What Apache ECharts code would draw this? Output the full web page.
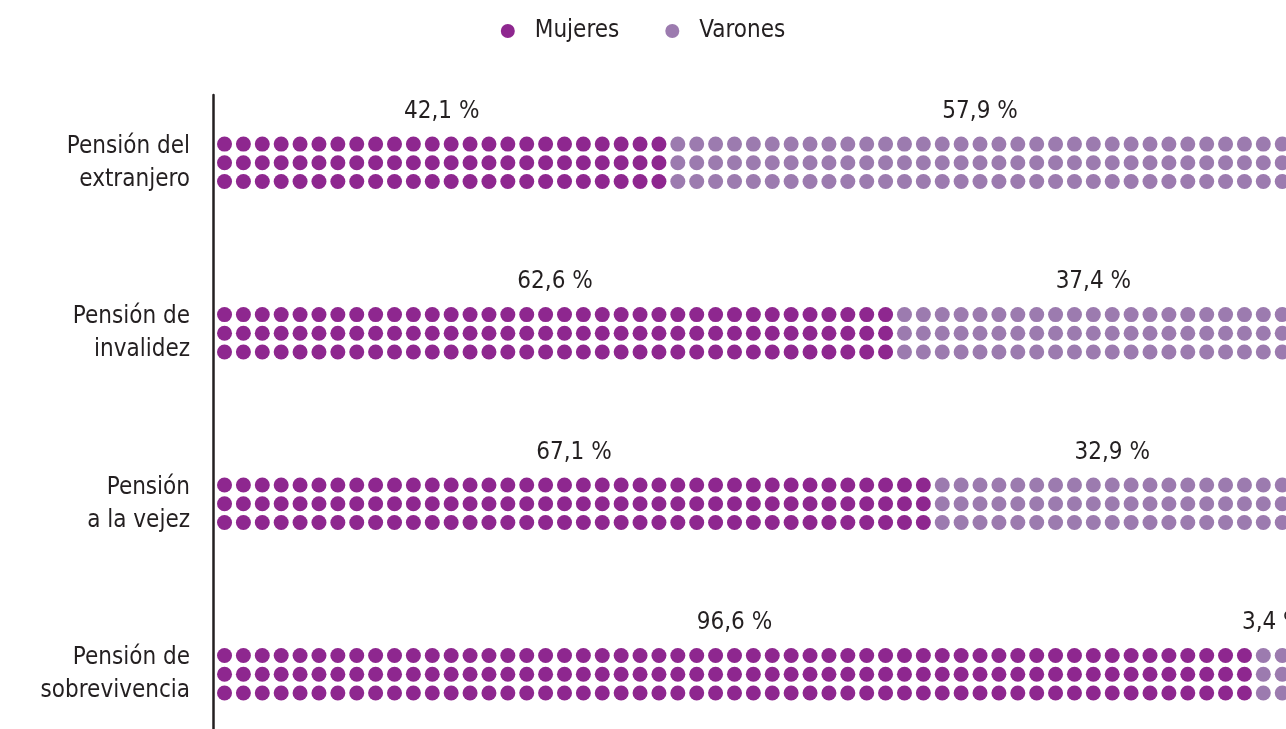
<!DOCTYPE html>
<html>
<head>
<meta charset="utf-8">
<script src="https://cdn.jsdelivr.net/npm/echarts@6/dist/echarts.min.js"></script>
<style>
html,body{margin:0;padding:0;background:#fff;}
#chart{width:1286px;height:729px;}
</style>
</head>
<body>
<div id="chart"></div>
<script>
// ---- data ----
const categories = ["Pensión del\nextranjero", "Pensión de\ninvalidez", "Pensión\na la vejez", "Pensión de\nsobrevivencia"];
const mujeres = [42.1, 62.6, 67.1, 96.6];
const varones = [57.9, 37.4, 32.9, 3.4];
const seriesNames = ["Mujeres", "Varones"];
const COLUMNS = 57;      // dots per row (100 %)
const ROWS = 3;          // rows per category

// ---- layout constants ----
const GAP = 9.1;         // distance between categories, in row units
const FONT = '"Liberation Sans Narrow", "DejaVu Sans Condensed", "Arial Narrow", sans-serif';
const TXT = '#231F20';
const C_M = '#8E278F';
const C_V = '#9C7BAF';
const X_MIN = -0.61, X_MAX = 56.2;
const Y_MIN = -2.62, Y_MAX = 31.22;

function fmt(v){ return v.toFixed(1).replace('.', ',') + ' %'; }

const mDots = [], vDots = [], pctLabels = [], catLabels = [];
categories.forEach((c, i) => {
  const nM = Math.round(mujeres[i] * COLUMNS / 100);
  for (let r = 0; r < ROWS; r++) {
    for (let k = 0; k < COLUMNS; k++) {
      const pt = [k, i * GAP + r];
      if (k < nM) mDots.push(pt); else vDots.push(pt);
    }
  }
  pctLabels.push({ value: [(nM - 1) / 2, i * GAP - 1.75], label: { formatter: fmt(mujeres[i]) } });
  pctLabels.push({ value: [(nM + COLUMNS - 1) / 2, i * GAP - 1.75], label: { formatter: fmt(varones[i]) } });
  catLabels.push({ value: [X_MIN, i * GAP + 1], label: { formatter: c } });
});

const chart = echarts.init(document.getElementById('chart'), null, { renderer: 'canvas' });
chart.setOption({
  animation: false,
  backgroundColor: '#fff',
  legend: {
    data: seriesNames,
    top: 14,
    left: 'center',
    icon: 'circle',
    itemWidth: 14,
    itemHeight: 14,
    itemGap: 46,
    textStyle: { fontFamily: FONT, fontSize: 24, color: TXT, padding: [0, 0, 0, 15] }
  },
  grid: { left: 213, right: 0, top: 95, bottom: 0, containLabel: false },
  xAxis: { type: 'value', min: X_MIN, max: X_MAX, show: false },
  yAxis: {
    type: 'value', min: Y_MIN, max: Y_MAX, inverse: true,
    axisLine: { show: true, onZero: false, lineStyle: { color: TXT, width: 2.5 } },
    axisTick: { show: false }, axisLabel: { show: false }, splitLine: { show: false }
  },
  series: [
    { name: seriesNames[0], type: 'scatter', data: mDots, symbol: 'circle', symbolSize: 15,
      itemStyle: { color: C_M, opacity: 1 }, silent: true },
    { name: seriesNames[1], type: 'scatter', data: vDots, symbol: 'circle', symbolSize: 15,
      itemStyle: { color: C_V, opacity: 1 }, silent: true },
    { name: 'pct', type: 'scatter', data: pctLabels, symbolSize: 0, silent: true,
      itemStyle: { opacity: 1 },
      label: { show: true, position: 'inside', color: TXT, opacity: 1, fontFamily: FONT, fontSize: 24 } },
    { name: 'cat', type: 'scatter', data: catLabels, symbolSize: 0, silent: true,
      itemStyle: { opacity: 1 },
      label: { show: true, position: 'left', distance: 23, align: 'right', color: TXT, opacity: 1,
               fontFamily: FONT, fontSize: 24, lineHeight: 33 } }
  ]
});
</script>
</body>
</html>
